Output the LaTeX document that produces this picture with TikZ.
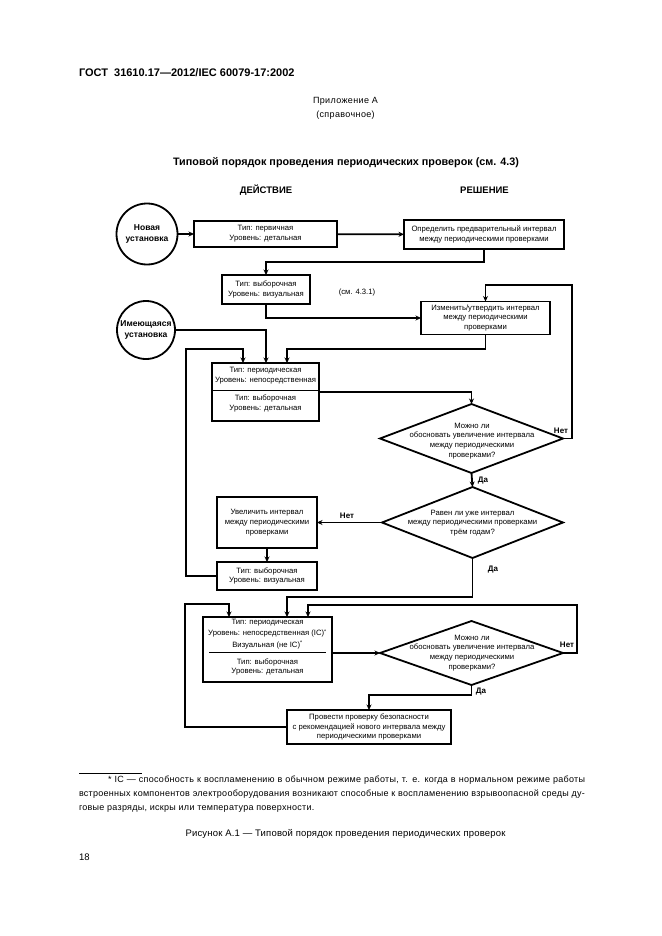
\documentclass[tikz,border=0pt]{standalone}
\usepackage{fontspec}
\setmainfont{Liberation Sans}
\usetikzlibrary{arrows.meta,shapes.geometric,calc}
\newcommand\bx{\fontsize{7.7}{9.8}\selectfont}
\newcommand\bxb{\fontsize{8.5}{10.5}\selectfont\bfseries}
\begin{document}
\begin{tikzpicture}[x=1pt,y=-1pt,
  every node/.style={inner sep=0pt, outer sep=0pt},
  box/.style={draw, line width=1.8pt, align=center, font=\bx},
  circ/.style={draw, circle, line width=1.8pt, align=center, font=\bxb},
  dia/.style={draw, diamond, line width=1.8pt},
  txt/.style={align=center, font=\bx},
  lab/.style={font=\fontsize{8}{10}\selectfont\bfseries},
  arr/.style={line width=1.8pt, -{Stealth[length=5.5pt,width=5pt]}},
  sep/.style={line width=1pt}]
\useasboundingbox (0,0) rectangle (661,936);

% page texts
\node[anchor=west, font=\fontsize{11}{13}\selectfont\bfseries] (hdr) at (79,73) {ГОСТ\ \ 31610.17—2012/IEC 60079-17:2002};
\node[font=\fontsize{9}{11}\selectfont\addfontfeature{LetterSpace=4}] (app1) at (345.5,101) {Приложение А};
\node[font=\fontsize{9}{11}\selectfont\addfontfeature{LetterSpace=4}] (app2) at (345.5,115) {(справочное)};
\node[font=\fontsize{10.8}{12}\selectfont\bfseries] (title) at (346,163) {Типовой порядок проведения периодических проверок (см. 4.3)};
\node[font=\fontsize{9.5}{11}\selectfont\bfseries] (act) at (266,190) {ДЕЙСТВИЕ};
\node[font=\fontsize{9.5}{11}\selectfont\bfseries] (dec) at (484.5,190) {РЕШЕНИЕ};

% flowchart nodes
\node[circ, minimum size=61] (c1) at (147,234) {Новая\\установка};
\node[box, minimum width=143, minimum height=26] (b1) at (265.5,234) {Тип: первичная\\Уровень: детальная};
\node[box, minimum width=160, minimum height=29] (b2) at (484,234.5) {Определить предварительный интервал\\между периодическими проверками};
\node[box, minimum width=88, minimum height=29] (b3) at (266,289.5) {Тип: выборочная\\Уровень: визуальная};
\node[txt] (ref) at (357,293) {(см. 4.3.1)};
\node[box, minimum width=129, minimum height=33] (b4) at (485.5,318) {Изменить/утвердить интервал\\между периодическими\\проверками};
\node[circ, minimum size=58] (c2) at (146,330) {Имеющаяся\\установка};

\node[box, minimum width=107, minimum height=58] (b5) at (265.5,392) {};
\coordinate (s5) at (0,390);
\draw[sep] (b5.west |- s5) -- (b5.east |- s5);
\node[txt] (t5a) at (265.5,375.5) {Тип: периодическая\\Уровень: непосредственная};
\node[txt] (t5b) at (265.5,403.5) {Тип: выборочная\\Уровень: детальная};

\node[dia, minimum width=183, minimum height=69] (d1) at (471.5,438.5) {};
\node[txt] (t1) at (472,441) {Можно ли\\обосновать увеличение интервала\\между периодическими\\проверками?};

\node[dia, minimum width=181, minimum height=71] (d2) at (472.5,522.5) {};
\node[txt] (t2) at (472.5,523) {Равен ли уже интервал\\между периодическими проверками\\трём годам?};

\node[box, minimum width=100, minimum height=51] (b6) at (267,522.5) {Увеличить интервал\\между периодическими\\проверками};
\node[box, minimum width=100, minimum height=28] (b7) at (267,576) {Тип: выборочная\\Уровень: визуальная};

\node[box, minimum width=129, minimum height=65] (b8) at (267.5,649.5) {};
\coordinate (s8) at (0,652);
\draw[sep] ($(b8.west |- s8)+(6,0)$) -- ($(b8.east |- s8)+(-6,0)$);
\node[txt, font=\fontsize{7.7}{11.3}\selectfont] (t8a) at (267.5,634) {Тип: периодическая\\Уровень: непосредственная (IC)\textsuperscript{*}\\Визуальная (не IC)\textsuperscript{*}};
\node[txt] (t8b) at (267.5,667) {Тип: выборочная\\Уровень: детальная};

\node[dia, minimum width=183, minimum height=64] (d3) at (471.5,653) {};
\node[txt] (t3) at (472,653) {Можно ли\\обосновать увеличение интервала\\между периодическими\\проверками?};

\node[box, minimum width=164, minimum height=34] (b9) at (369,727) {Провести проверку безопасности\\с рекомендацией нового интервала между\\периодическими проверками};

% labels
\node[lab] (n1) at (561,431) {Нет};
\node[lab] (y1) at (483,481) {Да};
\node[lab] (n2) at (347,516) {Нет};
\node[lab] (y2) at (493,570) {Да};
\node[lab] (n3) at (567,645) {Нет};
\node[lab] (y3) at (481,692) {Да};

% helper coordinates
\coordinate (j1) at (0,262);
\coordinate (j2) at (0,349);
\coordinate (b5in1) at (243,363);
\coordinate (b5in2) at (266,363);
\coordinate (b5in3) at (287,363);
\coordinate (r1) at (572,285);
\coordinate (l1) at (186,349);
\coordinate (j3) at (0,597);
\coordinate (b8in1) at (229,617);
\coordinate (b8in2) at (287,617);
\coordinate (b8in3) at (308,617);
\coordinate (r3) at (577,605);
\coordinate (l3) at (185,604);
\coordinate (j4) at (0,695);

% connectors
\draw[arr] (c1) -- (b1);
\draw[arr] (b1) -- (b2);
\draw[arr] (b2.south) -- (b2.south |- j1) -| (b3.north);
\draw[arr] (b3.south) |- (b4.west);
\draw[arr] (b4.south) -- (b4.south |- j2) -| (b5in3);
\draw[arr] (c2.east) -| (b5in2);
\draw[arr] (b5.east) -| (d1.north);
\draw[arr] (d1.south) -- (d2.north);
\draw[arr] (d1.east) -- (d1.east -| r1) -- (r1) -- (b4.north |- r1) -- (b4.north);
\draw[arr] (d2.west) -- (b6.east);
\draw[arr] (b6.south) -- (b7.north);
\draw[arr] (b7.west) -| (l1) -| (b5in1);
\draw[arr] (d2.south) -- (d2.south |- j3) -| (b8in2);
\draw[arr] (b8.east |- d3.west) -- (d3.west);
\draw[arr] (d3.east) -- (d3.east -| r3) -- (r3) -| (b8in3);
\draw[arr] (d3.south) -- (d3.south |- j4) -| (b9.north);
\draw[arr] (b9.west) -| (l3) -| (b8in1);

% footnote and caption
\coordinate (f1) at (79,773);
\coordinate (f2) at (142,773);
\draw[line width=0.7pt] (f1) -- (f2);
\node[anchor=north west, text width=506pt, font=\fontsize{9}{14}\selectfont\addfontfeature{LetterSpace=3}, align=justify] (fn) at (79,775.5)
{\parindent=29pt\indent * IC — способность к воспламенению в обычном режиме работы, т. е. когда в нормальном режиме работы\linebreak
встроенных компонентов электрооборудования возникают способные к воспламенению взрывоопасной среды ду-\linebreak
говые разряды, искры или температура поверхности.};
\node[font=\fontsize{9.5}{11}\selectfont\addfontfeature{LetterSpace=2}] (cap) at (345.5,834) {Рисунок А.1 — Типовой порядок проведения периодических проверок};
\node[anchor=west, font=\fontsize{9.5}{11}\selectfont] (pg) at (79,857) {18};
\end{tikzpicture}
\end{document}
